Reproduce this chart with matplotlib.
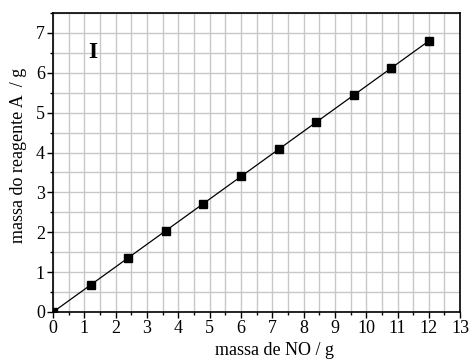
import matplotlib
matplotlib.use("Agg")
import matplotlib.pyplot as plt
from matplotlib.ticker import MultipleLocator

x_no = [0, 1.2, 2.4, 3.6, 4.8, 6.0, 7.2, 8.4, 9.6, 10.8, 12.0]
y_a = [0, 0.68, 1.36, 2.04, 2.72, 3.40, 4.08, 4.76, 5.44, 6.12, 6.80]
x_label = "massa de NO / g"
y_label = "massa do reagente A  / g"
panel = "I"

plt.rcParams['font.family'] = ['Liberation Serif', 'DejaVu Serif']

fig = plt.figure(figsize=(4.7, 3.63), dpi=100)
ax = fig.add_axes([0.113, 0.1405, 0.866, 0.8235])
ax.plot(x_no, y_a, color='black', lw=0.9, marker='s', ms=5.5, mfc='black', mec='black', zorder=3, clip_on=True)
ax.set_xlim(0, 13)
ax.set_ylim(0, 7.5)
ax.xaxis.set_major_locator(MultipleLocator(1))
ax.xaxis.set_minor_locator(MultipleLocator(0.5))
ax.yaxis.set_major_locator(MultipleLocator(1))
ax.yaxis.set_minor_locator(MultipleLocator(0.5))
ax.grid(True, which='both', color='#c8c8c8', lw=1.0, zorder=0)
ax.set_axisbelow(True)
ax.tick_params(which='major', direction='out', length=4, width=1, labelsize=13, pad=2)
ax.tick_params(which='minor', direction='out', length=2.5, width=1)
for s in ax.spines.values():
    s.set_linewidth(1.2)
ax.set_xlabel(x_label, fontsize=13)
ax.set_ylabel(y_label, fontsize=13)
ax.xaxis.set_label_coords(0.545, -0.10)
ax.yaxis.set_label_coords(-0.065, 0.525)
ax.text(1.28, 6.5, panel, fontsize=17, fontweight='bold', ha='center', va='center')
fig.savefig("out.png", dpi=100)
